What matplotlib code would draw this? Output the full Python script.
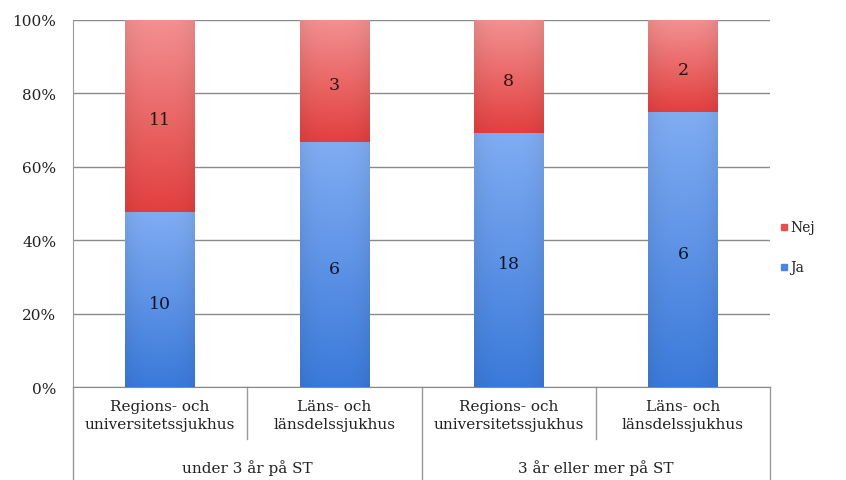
import numpy as np
import matplotlib
matplotlib.use("Agg")
import matplotlib.pyplot as plt
from matplotlib.colors import LinearSegmentedColormap
from matplotlib.lines import Line2D

plt.rcParams['font.family'] = ['DejaVu Serif', 'Liberation Serif']

subgroups = ["Regions- och\nuniversitetssjukhus", "Läns- och\nlänsdelssjukhus",
             "Regions- och\nuniversitetssjukhus", "Läns- och\nlänsdelssjukhus"]
groups = ["under 3 år på ST", "3 år eller mer på ST"]
ja = [10, 6, 18, 6]
nej = [11, 3, 8, 2]
yticks = [0, 20, 40, 60, 80, 100]

ja = np.array(ja, float)
nej = np.array(nej, float)
tot = ja + nej
ja_pct = ja / tot * 100
nej_pct = nej / tot * 100

fig = plt.figure(figsize=(8.46, 4.81), dpi=100)
ax = fig.add_axes([73/846, 1 - 388/481, (770-73)/846, (388-21)/481])
x = np.arange(len(subgroups))
w = 0.4

blue_cm = LinearSegmentedColormap.from_list("b", ["#80acf2", "#3b7ada"])
red_cm = LinearSegmentedColormap.from_list("r", ["#f39090", "#e2403f"])

def gradient_bars(bottoms, heights, cmap, label):
    bars = ax.bar(x, heights, w, bottom=bottoms, color="none", edgecolor="none",
                  label=label, zorder=3)
    for b in bars:
        x0, y0 = b.get_x(), b.get_y()
        x1, y1 = x0 + b.get_width(), y0 + b.get_height()
        grad = np.linspace(0, 1, 64)
        col = np.linspace(0, 1, 32)
        shade = 1 - 0.06 * (np.abs(col - 0.5) * 2) ** 3
        img = cmap(grad)[:, None, :] * np.ones((1, 32, 1))
        img[..., :3] *= shade[None, :, None]
        im = ax.imshow(img, extent=[x0, x1, y0, y1], origin="upper",
                       aspect="auto", zorder=3, interpolation="bilinear")
        im.set_clip_path(b)
    return bars

gradient_bars(np.zeros(4), ja_pct, blue_cm, "Ja")
gradient_bars(ja_pct, nej_pct, red_cm, "Nej")

for i in range(4):
    ax.text(x[i], ja_pct[i] / 2 - 1, f"{int(ja[i])}", ha="center", va="center",
            fontsize=12.5, color="#141428", zorder=5)
    ax.text(x[i], ja_pct[i] + nej_pct[i] / 2 - 1, f"{int(nej[i])}", ha="center",
            va="center", fontsize=12.5, color="#281414", zorder=5)

ax.set_xlim(-0.5, 3.5)
ax.set_ylim(0, 100)
ax.set_yticks(yticks)
ax.set_yticklabels([f"{t}%" for t in yticks], fontsize=11, color="#222222")
ax.tick_params(axis="y", length=0, pad=12)
ax.set_xticks([])
ax.yaxis.grid(True, color="#8a8a8a", linewidth=1.0, zorder=0)
ax.set_axisbelow(True)
for s in ["top", "right"]:
    ax.spines[s].set_visible(False)
ax.spines["left"].set_color("#9a9a9a")
ax.spines["bottom"].set_color("#8a8a8a")

# two-level category axis drawn as a box table under the plot
tr = ax.get_xaxis_transform()
short_y = -52 / 367
long_y = -95 / 367
for xv, yb in [(-0.5, long_y), (0.5, short_y), (1.5, long_y), (2.5, short_y), (3.5, long_y)]:
    ax.add_line(Line2D([xv, xv], [0, yb], transform=tr, color="#9a9a9a",
                       linewidth=1.0, clip_on=False))
for i, lab in enumerate(subgroups):
    ax.text(x[i], -28 / 367, lab, transform=tr, ha="center", va="center",
            fontsize=11, color="#222222", linespacing=1.3)
for g, lab in enumerate(groups):
    ax.text(2 * g + 0.5, -80 / 367, lab, transform=tr, ha="center", va="center",
            fontsize=11, color="#222222")

# legend
fig.patches.append(plt.Rectangle((781/846, 1 - 231/481), 6/846, 6/481,
                                 transform=fig.transFigure, color="#e85050"))
fig.text(790/846, 1 - 228/481, "Nej", fontsize=10, va="center", color="#222222")
fig.patches.append(plt.Rectangle((781/846, 1 - 271/481), 6/846, 6/481,
                                 transform=fig.transFigure, color="#4a86e0"))
fig.text(790/846, 1 - 268/481, "Ja", fontsize=10, va="center", color="#222222")

fig.savefig("out.png", dpi=100)
